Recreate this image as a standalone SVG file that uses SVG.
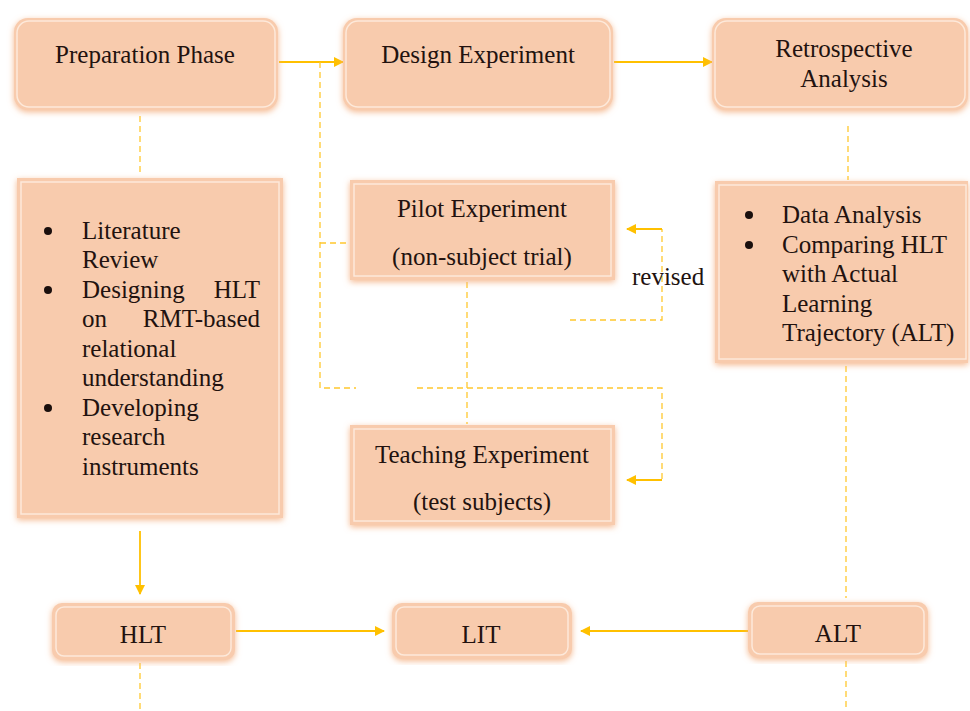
<svg xmlns="http://www.w3.org/2000/svg" width="970" height="711" viewBox="0 0 970 711">
<defs>
<filter id="glow" x="-10%" y="-10%" width="120%" height="120%">
<feDropShadow dx="0" dy="2" stdDeviation="3" flood-color="#F4B183" flood-opacity="0.9"/>
</filter>
<marker id="ah" viewBox="0 0 10 10" refX="9" refY="5" markerWidth="10" markerHeight="10" markerUnits="userSpaceOnUse" orient="auto">
<path d="M0,0 L10,5 L0,10 z" fill="#FFC000"/>
</marker>
</defs>
<style>
.box{fill:#F8CBAD;filter:url(#glow)}
.inner{fill:none;stroke:#FDE9DA;stroke-width:1.5}
.t{font-family:"Liberation Serif","Times New Roman",serif;font-size:25px;fill:#22120F}
.c{text-anchor:middle}
.e{text-anchor:end}
.solid{stroke:#FFC000;stroke-width:1.8;fill:none}
.dash{stroke:#FFC82E;stroke-width:1.3;fill:none;stroke-dasharray:6 4}
.bul{fill:#1a0f0d}
</style>
<rect width="970" height="711" fill="#FFFFFF"/>
<g id="connectors">
<line class="solid" x1="279" y1="62" x2="343" y2="62" marker-end="url(#ah)"/>
<line class="solid" x1="614" y1="62" x2="712" y2="62" marker-end="url(#ah)"/>
<line class="dash" x1="140" y1="116" x2="140" y2="174"/>
<line class="dash" x1="848" y1="126" x2="848" y2="180"/>
<polyline class="dash" points="320,62 320,388 356,388"/>
<line class="dash" x1="320" y1="243" x2="350" y2="243"/>
<polyline class="dash" points="417,388 662,388 662,480"/>
<line class="solid" x1="662" y1="480" x2="627" y2="480" marker-end="url(#ah)"/>
<line class="dash" x1="467" y1="282" x2="467" y2="424"/>
<polyline class="dash" points="570,320 662,320 662,229"/>
<line class="solid" x1="662" y1="229" x2="627" y2="229" marker-end="url(#ah)"/>
<line class="solid" x1="140" y1="531" x2="140" y2="594" marker-end="url(#ah)"/>
<line class="dash" x1="846" y1="366" x2="846" y2="598"/>
<line class="solid" x1="236" y1="631" x2="384" y2="631" marker-end="url(#ah)"/>
<line class="solid" x1="748" y1="631" x2="581" y2="631" marker-end="url(#ah)"/>
<line class="dash" x1="140" y1="663" x2="140" y2="711"/>
<line class="dash" x1="846" y1="661" x2="846" y2="711"/>
<text class="t" x="632" y="285">revised</text>
</g>
<g id="prep">
<rect class="box" x="14" y="18" width="264" height="92" rx="14"/>
<rect class="inner" x="17" y="21" width="258" height="86" rx="12"/>
<text class="t c" x="145" y="63">Preparation Phase</text>
</g>
<g id="design">
<rect class="box" x="343" y="18" width="270" height="92" rx="14"/>
<rect class="inner" x="346" y="21" width="264" height="86" rx="12"/>
<text class="t c" x="478" y="63">Design Experiment</text>
</g>
<g id="retro">
<rect class="box" x="712" y="18" width="256" height="92" rx="14"/>
<rect class="inner" x="715" y="21" width="250" height="86" rx="12"/>
<text class="t c" x="844" y="57">Retrospective</text>
<text class="t c" x="844" y="87">Analysis</text>
</g>
<g id="prep-list">
<rect class="box" x="17" y="178" width="266" height="340"/>
<rect class="inner" x="21" y="182" width="258" height="332"/>
<circle class="bul" cx="48" cy="231" r="4"/>
<circle class="bul" cx="48" cy="290" r="4"/>
<circle class="bul" cx="48" cy="408" r="4"/>
<text class="t" x="82" y="239">Literature</text>
<text class="t" x="82" y="268">Review</text>
<text class="t" x="82" y="297.5">Designing</text>
<text class="t e" x="260" y="297.5">HLT</text>
<text class="t" x="82" y="327">on</text>
<text class="t e" x="260" y="327">RMT-based</text>
<text class="t" x="82" y="356.5">relational</text>
<text class="t" x="82" y="386">understanding</text>
<text class="t" x="82" y="416">Developing</text>
<text class="t" x="82" y="445">research</text>
<text class="t" x="82" y="475">instruments</text>
</g>
<g id="pilot">
<rect class="box" x="350" y="180" width="265" height="100"/>
<rect class="inner" x="354" y="184" width="257" height="92"/>
<text class="t c" x="482" y="217">Pilot Experiment</text>
<text class="t c" x="482" y="265">(non-subject trial)</text>
</g>
<g id="teaching">
<rect class="box" x="350" y="425" width="265" height="100"/>
<rect class="inner" x="354" y="429" width="257" height="92"/>
<text class="t c" x="482" y="463">Teaching Experiment</text>
<text class="t c" x="482" y="510">(test subjects)</text>
</g>
<g id="retro-list">
<rect class="box" x="715" y="181" width="253" height="182"/>
<rect class="inner" x="719" y="185" width="247" height="174"/>
<circle class="bul" cx="749" cy="215" r="4"/>
<circle class="bul" cx="749" cy="245" r="4"/>
<text class="t" x="782" y="223">Data Analysis</text>
<text class="t" x="782" y="252.5">Comparing HLT</text>
<text class="t" x="782" y="282">with Actual</text>
<text class="t" x="782" y="311.5">Learning</text>
<text class="t" x="782" y="341">Trajectory (ALT)</text>
</g>
<g id="hlt">
<rect class="box" x="52" y="603" width="183" height="57" rx="10"/>
<rect class="inner" x="56" y="607" width="175" height="49" rx="8"/>
<text class="t c" x="143" y="643">HLT</text>
</g>
<g id="lit">
<rect class="box" x="392" y="603" width="180" height="56" rx="10"/>
<rect class="inner" x="396" y="607" width="172" height="48" rx="8"/>
<text class="t c" x="481" y="643">LIT</text>
</g>
<g id="alt">
<rect class="box" x="748" y="602" width="180" height="56" rx="10"/>
<rect class="inner" x="752" y="606" width="172" height="48" rx="8"/>
<text class="t c" x="838" y="642">ALT</text>
</g>
</svg>
